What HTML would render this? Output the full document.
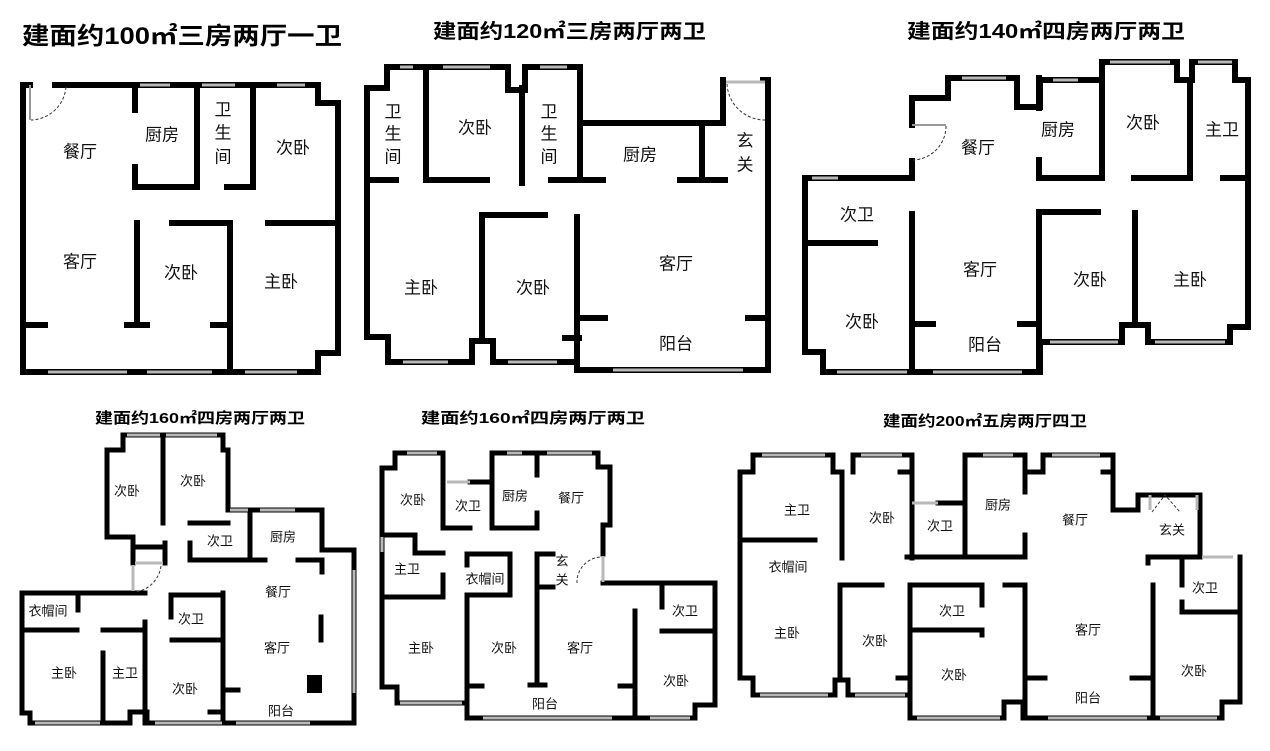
<!DOCTYPE html>
<html><head><meta charset="utf-8">
<style>
html,body{margin:0;padding:0;background:#fff;}
svg{display:block;}
.w{fill:none;stroke:#000;stroke-width:6;stroke-linecap:square;stroke-linejoin:miter;}
.b .w{stroke-width:5;}
.win{stroke:#b8b8b8;stroke-width:3;fill:none;}
.t{font-family:"Liberation Sans","Noto Sans CJK SC",sans-serif;font-size:17px;fill:#111;text-anchor:middle;dominant-baseline:central;}
.s{font-size:13px;}
.h{font-family:"Liberation Sans","Noto Sans CJK SC",sans-serif;font-weight:bold;fill:#000;}
.d{fill:none;stroke:#333;stroke-width:1;stroke-dasharray:3 2;}
</style></head><body>
<svg width="1270" height="751" viewBox="0 0 1270 751" xmlns="http://www.w3.org/2000/svg">
<rect width="1270" height="751" fill="#fff"/>
<!-- titles -->
<text class="h" x="22" y="44" font-size="24" textLength="320" lengthAdjust="spacingAndGlyphs">建面约100㎡三房两厅一卫</text>
<text class="h" x="433" y="38" font-size="20" textLength="273" lengthAdjust="spacingAndGlyphs">建面约120㎡三房两厅两卫</text>
<text class="h" x="907" y="38" font-size="20" textLength="278" lengthAdjust="spacingAndGlyphs">建面约140㎡四房两厅两卫</text>
<text class="h" x="95" y="423" font-size="15" textLength="210" lengthAdjust="spacingAndGlyphs">建面约160㎡四房两厅两卫</text>
<text class="h" x="421" y="423" font-size="15" textLength="224" lengthAdjust="spacingAndGlyphs">建面约160㎡四房两厅两卫</text>
<text class="h" x="883" y="426" font-size="15" textLength="204" lengthAdjust="spacingAndGlyphs">建面约200㎡五房两厅四卫</text>

<!-- PLAN 1 -->
<g>
<path class="w" d="M55 85 H318 V103 H338 V353 H318 V372 H23 V85 H30"/>
<path class="w" d="M135 85 V110 M135 167 V187 H197 V85 M227 187 H253 V85 M268 223 H338 M172 223 H230 V372 M137 223 V325 M127 325 H147 M23 325 H45 M213 325 H230"/>
<path class="win" d="M140 85 H170 M202 85 H235 M277 85 H305 M48 372 H127 M147 372 H212 M245 372 H297"/>
<path d="M30 85 V120" stroke="#999" stroke-width="2"/>
<path class="d" d="M66 87 A36 36 0 0 1 31 120"/>
<text class="t" x="80" y="152">餐厅</text>
<text class="t" x="162" y="135">厨房</text>
<text class="t" x="223" y="110">卫</text><text class="t" x="223" y="133">生</text><text class="t" x="223" y="157">间</text>
<text class="t" x="293" y="148">次卧</text>
<text class="t" x="80" y="262">客厅</text>
<text class="t" x="181" y="273">次卧</text>
<text class="t" x="281" y="282">主卧</text>
</g>

<!-- PLAN 2 -->
<g>
<path class="w" d="M367 88 H387 V67 H508 V90 H525 V67 H580 V123 H723 V80 M763 80 H768 V370 H577 V217 M577 362 H493 V341 H472 V362 H388 V337 H367 V88"/>
<path class="w" d="M426 67 V180 H487 M367 180 H396 M522 88 V183 M580 123 V180 M551 180 H603 M702 123 V180 M680 180 H725 M482 215 H545 M482 215 V341 M579 318 H605 M748 318 H768 M565 338 H579"/>
<path class="win" d="M400 67 H413 M443 67 H490 M540 67 H567 M403 362 H448 M508 362 H557 M613 370 H743 M726 82 H765"/>
<path class="d" d="M727 84 A38 38 0 0 0 765 120"/>
<text class="t" x="393" y="112">卫</text><text class="t" x="393" y="134">生</text><text class="t" x="393" y="157">间</text>
<text class="t" x="475" y="128">次卧</text>
<text class="t" x="549" y="112">卫</text><text class="t" x="549" y="134">生</text><text class="t" x="549" y="157">间</text>
<text class="t" x="640" y="155">厨房</text>
<text class="t" x="745" y="141">玄</text><text class="t" x="745" y="165">关</text>
<text class="t" x="676" y="264">客厅</text>
<text class="t" x="421" y="288">主卧</text>
<text class="t" x="533" y="288">次卧</text>
<text class="t" x="676" y="344">阳台</text>
</g>

<!-- PLAN 3 -->
<g>
<path class="w" d="M912 161 V178 H805 V352 H823 V372 H1040 V342 H1122 V325 H1148 V342 H1230 V327 H1248 V80 H1235 V62 H1192 V80 H1177 V62 H1102 V80 H1040 V107 H1017 V78 H948 V98 H912 V125"/>
<path class="w" d="M1039 78 V108 M1039 160 V178 H1102 V62 M1134 178 H1190 V80 M1223 178 H1248 M805 243 H875 M912 214 V372 M912 324 H933 M1020 324 H1039 M1039 215 V372 M1039 212 H1098 M1135 213 V325"/>
<path class="win" d="M812 178 H838 M837 372 H907 M933 372 H1022 M1050 342 H1118 M1155 342 H1225 M962 78 H1006 M1053 80 H1078 M1110 62 H1170 M1198 62 H1232"/>
<path d="M912 125 H946" stroke="#999" stroke-width="2"/>
<path class="d" d="M946 126 A34 34 0 0 1 913 160"/>
<text class="t" x="978" y="148">餐厅</text>
<text class="t" x="1058" y="130">厨房</text>
<text class="t" x="1143" y="123">次卧</text>
<text class="t" x="1222" y="130">主卫</text>
<text class="t" x="857" y="215">次卫</text>
<text class="t" x="980" y="270">客厅</text>
<text class="t" x="1090" y="280">次卧</text>
<text class="t" x="1190" y="280">主卧</text>
<text class="t" x="862" y="322">次卧</text>
<text class="t" x="985" y="345">阳台</text>
</g>

<!-- PLAN 4 -->
<g class="b">
<path class="w" d="M123 435 V450 H107 V537 H133 V563 M145 593 H22 V713 H30 V723 H130 V712 H147 V723 H354 V550 H322 V510 H250 M123 435 H223 V450 H228 V510 H250 V560"/>
<path class="w" d="M163 435 V523 M190 523 H228 M190 543 V560 H265 M298 560 H322 V572 M133 547 H165 M165 543 V563 M78 593 V610 M22 630 H77 M103 630 H145 M145 622 V723 M103 653 V723 M223 593 V723 M171 595 H223 M171 595 V617 M172 640 H223 M223 690 H238 M210 712 H223 M321 617 V640"/>
<path class="win" d="M127 435 H160 M166 435 H217 M35 723 H100 M155 723 H222 M236 723 H310 M354 570 V693 M260 510 H295 M230 510 H248 M133 565 V591 M135 563 H163"/>
<rect x="307" y="675" width="15" height="18" fill="#000"/>
<path class="d" d="M161 566 A30 30 0 0 1 135 592"/>
<g class="t s">
<text class="t s" x="127" y="491">次卧</text>
<text class="t s" x="193" y="481">次卧</text>
<text class="t s" x="220" y="541">次卫</text>
<text class="t s" x="283" y="537">厨房</text>
<text class="t s" x="278" y="592">餐厅</text>
<text class="t s" x="48" y="611">衣帽间</text>
<text class="t s" x="191" y="619">次卫</text>
<text class="t s" x="277" y="648">客厅</text>
<text class="t s" x="64" y="673">主卧</text>
<text class="t s" x="125" y="673">主卫</text>
<text class="t s" x="185" y="689">次卧</text>
<text class="t s" x="281" y="711">阳台</text>
</g>
</g>

<!-- PLAN 5 -->
<g class="b">
<path class="w" d="M395 453 H443 M395 453 V468 H382 V687 H397 V703 H467 V718 H695 V705 H715 V583 H603 M603 554 V525 H610 V467 H598 V453 H492 V528 H537 V513 M537 475 V453 M443 453 V528 H470 M470 482 H492"/>
<path class="w" d="M382 535 H415 V553 H443 M382 597 H443 V575 M467 554 H510 V595 H467 M467 554 V565 M467 595 V718 M467 686 H482 M537 554 V685 M530 685 H545 M537 554 H553 M537 587 H553 M662 583 V607 M662 631 H715 M635 611 V718 M620 686 H635"/>
<path class="win" d="M407 453 H437 M507 453 H522 M547 453 H592 M400 703 H462 M483 718 H612 M650 718 H690 M447 482 H470 M382 537 V552 M603 556 V582"/>
<path class="d" d="M577 583 A25 25 0 0 1 602 557"/>
<text class="t s" x="413" y="500">次卧</text>
<text class="t s" x="468" y="506">次卫</text>
<text class="t s" x="515" y="496">厨房</text>
<text class="t s" x="571" y="498">餐厅</text>
<text class="t s" x="407" y="569">主卫</text>
<text class="t s" x="485" y="579">衣帽间</text>
<text class="t s" x="562" y="561">玄</text><text class="t s" x="562" y="580">关</text>
<text class="t s" x="421" y="648">主卧</text>
<text class="t s" x="504" y="648">次卧</text>
<text class="t s" x="580" y="648">客厅</text>
<text class="t s" x="685" y="611">次卫</text>
<text class="t s" x="676" y="681">次卧</text>
<text class="t s" x="545" y="704">阳台</text>
</g>

<!-- PLAN 6 -->
<g class="b">
<path class="w" d="M753 455 H833 V472 H842 V558 M753 455 V472 H740 V678 H753 V695 H835 V680 H848 V695 H910 V718 H1004 V702 H1023 V718 H1222 V702 H1240 V557 M853 472 V455 H912 V558 M965 455 V557 H907 M965 455 H1025 V472 H1043 V455 H1113 V510 H1138 V495 H1200 V557 H1148 V563"/>
<path class="w" d="M938 503 H965 M900 472 H912 M1025 472 V492 M1025 535 V557 H965 M1103 472 H1113 M740 540 H815 M840 585 H882 M840 585 V678 M898 678 H910 M910 585 H982 V605 M910 630 H982 V635 M910 585 V718 M1005 585 H1025 V718 M1025 678 H1045 M1153 585 V718 M1132 678 H1153 M1182 559 V585 M1182 602 V612 H1240"/>
<path class="win" d="M762 455 H825 M861 455 H902 M983 455 H1013 M1052 455 H1100 M760 695 H828 M855 695 H905 M917 718 H1000 M1048 718 H1147 M1160 718 H1217 M912 503 H938 M1202 557 H1233 M1150 495 V510 M1197 495 V510"/>
<path class="d" d="M1152 512 L1165 495 L1180 512"/>
<text class="t s" x="797" y="510">主卫</text>
<text class="t s" x="882" y="518">次卧</text>
<text class="t s" x="940" y="526">次卫</text>
<text class="t s" x="998" y="505">厨房</text>
<text class="t s" x="1075" y="520">餐厅</text>
<text class="t s" x="1172" y="530">玄关</text>
<text class="t s" x="788" y="567">衣帽间</text>
<text class="t s" x="1205" y="588">次卫</text>
<text class="t s" x="787" y="633">主卧</text>
<text class="t s" x="875" y="641">次卧</text>
<text class="t s" x="952" y="611">次卫</text>
<text class="t s" x="1088" y="630">客厅</text>
<text class="t s" x="954" y="675">次卧</text>
<text class="t s" x="1088" y="698">阳台</text>
<text class="t s" x="1194" y="671">次卧</text>
</g>
</svg>
</body></html>
